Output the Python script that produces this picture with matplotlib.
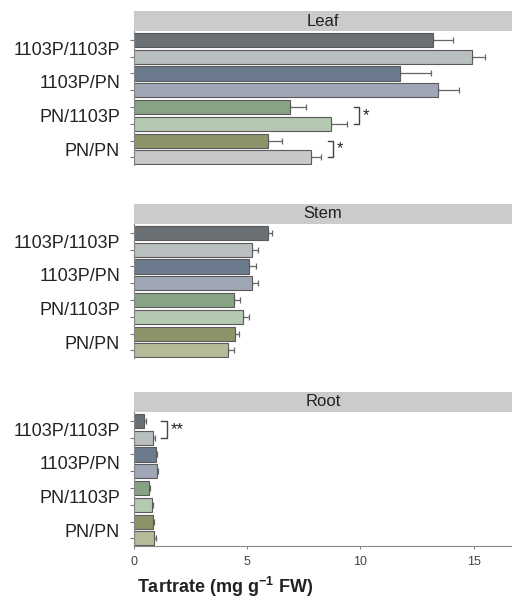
import matplotlib.pyplot as plt
from matplotlib.patches import Rectangle

plt.rcParams["font.family"] = ["Liberation Sans", "DejaVu Sans"]
plt.rcParams["mathtext.fontset"] = "custom"
plt.rcParams["mathtext.rm"] = "Liberation Sans"
plt.rcParams["mathtext.bf"] = "Liberation Sans:bold"

# Data
groups = ["1103P/1103P", "1103P/PN", "PN/1103P", "PN/PN"]
panels = ["Leaf", "Stem", "Root"]

leaf_vals = [13.2, 14.95, 11.75, 13.45, 6.9, 8.7, 5.9, 7.8]
leaf_err = [0.9, 0.55, 1.35, 0.9, 0.7, 0.7, 0.65, 0.45]

stem_vals = [5.9, 5.2, 5.1, 5.2, 4.4, 4.8, 4.45, 4.15]
stem_err = [0.2, 0.3, 0.3, 0.3, 0.3, 0.3, 0.2, 0.25]

root_vals = [0.45, 0.85, 0.95, 1.0, 0.65, 0.8, 0.85, 0.9]
root_err = [0.06, 0.06, 0.05, 0.07, 0.05, 0.06, 0.05, 0.05]

base_colors = ["#6b7074", "#b9bec1", "#6b7a8c", "#9fa6b6",
               "#87a285", "#b5c8b2", "#8a9468", "#b5bb98"]
leaf_colors = base_colors[:7] + ["#c8c8c8"]

# significance pairs: (panel, first bar index, label)
sig_marks = [("Leaf", 4, "*"), ("Leaf", 6, "*"), ("Root", 0, "**")]

panel_data = {
    "Leaf": (leaf_vals, leaf_err, leaf_colors),
    "Stem": (stem_vals, stem_err, base_colors),
    "Root": (root_vals, root_err, base_colors),
}

fig = plt.figure(figsize=(5.12, 6.12), dpi=100)

left = 134 / 512
width = (512 - 134) / 512
bottoms = [1 - 165 / 612, 1 - 358 / 612, 1 - 546 / 612]
ax_h = 134 / 612
xmax = 16.7

for name, bottom in zip(panels, bottoms):
    vals, errs, colors = panel_data[name]
    ax = fig.add_axes([left, bottom, width, ax_h])
    ypos = list(range(len(vals)))

    ax.barh(ypos, vals, height=0.84, color=colors,
            edgecolor="#5a5a5a", linewidth=0.8, zorder=2)
    ax.errorbar(vals, ypos, xerr=[[0] * len(errs), errs], fmt="none",
                ecolor="#666666", elinewidth=0.9, capsize=2.2,
                capthick=0.9, zorder=1)

    ax.set_xlim(0, xmax)
    ax.set_ylim(7.45, -0.53)

    # ticks at each bar, labels at group centres
    ax.set_yticks(ypos)
    ax.set_yticklabels([])
    ax.tick_params(axis="y", which="major", length=3, width=0.8,
                   color="#777777")
    ax.set_yticks([0.5, 2.5, 4.5, 6.5], minor=True)
    ax.set_yticklabels(groups, minor=True, fontsize=13, color="#222222")
    ax.tick_params(axis="y", which="minor", length=0, pad=10)

    for s in ["top", "right"]:
        ax.spines[s].set_visible(False)
    ax.spines["left"].set_color("#888888")
    ax.spines["left"].set_linewidth(0.8)

    if name == "Root":
        ax.spines["bottom"].set_color("#888888")
        ax.spines["bottom"].set_linewidth(0.8)
        ax.set_xticks([0, 5, 10, 15])
        ax.tick_params(axis="x", length=2.5, width=0.8, color="#888888",
                       labelsize=9, labelcolor="#444444", pad=5)
    else:
        ax.spines["bottom"].set_visible(False)
        ax.set_xticks([])

    # grey strip with panel name
    strip = Rectangle((0, 1.0), 1.0, 20 / 134, transform=ax.transAxes,
                      facecolor="#cbcbcb", edgecolor="none", clip_on=False)
    ax.add_patch(strip)
    ax.text(0.5, 1.0 + 10 / 134, name, transform=ax.transAxes,
            ha="center", va="center", fontsize=12, color="#222222")

    # significance brackets
    for pname, i, label in sig_marks:
        if pname != name:
            continue
        top_end = max(vals[i] + errs[i], vals[i + 1] + errs[i + 1])
        bx = top_end + 0.55
        arm = 0.25
        ax.plot([bx - arm, bx, bx, bx - arm], [i, i, i + 1, i + 1],
                color="#444444", linewidth=1.0, clip_on=False)
        ax.text(bx + 0.15, i + 0.5, label, ha="left", va="center",
                fontsize=12, color="#222222")

fig.text(0.44, 1 - 587 / 612, r"Tartrate (mg g$^{\mathbf{-1}}$ FW)",
         ha="center", va="center", fontsize=13, fontweight="bold",
         color="#222222")

fig.savefig("out.png", dpi=100)
